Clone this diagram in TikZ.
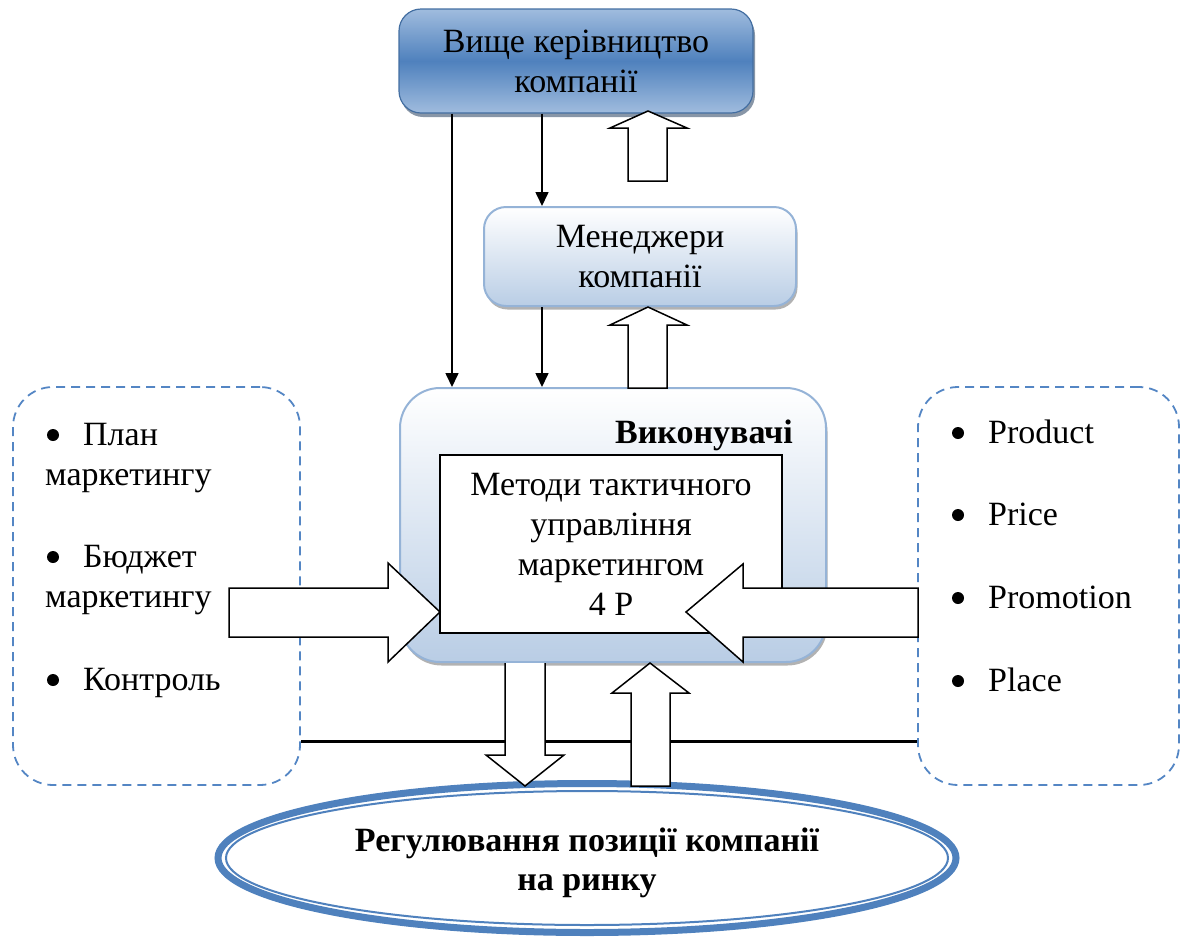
\documentclass[tikz,border=0pt]{standalone}
\usepackage{fontspec}
\setmainfont{Liberation Serif}
\usetikzlibrary{shadows,arrows.meta,calc,shapes.geometric}
\definecolor{accent}{RGB}{79,129,189}
\definecolor{lightacc}{RGB}{149,179,215}
\definecolor{paleacc}{RGB}{185,205,229}
\definecolor{topacc}{RGB}{160,188,222}
\definecolor{dashacc}{RGB}{84,134,196}
\tikzset{
  body/.style={font=\fontsize{34}{40}\selectfont},
  topbox/.style={draw=accent!85!black, line width=1.2pt, rounded corners=22pt,
    top color=topacc, bottom color=topacc, middle color=accent,
    drop shadow={shadow xshift=2pt, shadow yshift=-4pt, fill=accent!50!black, opacity=0.55},
    align=center, body},
  softbox/.style={draw=lightacc, line width=2pt, top color=white, bottom color=paleacc,
    drop shadow={shadow xshift=1.5pt, shadow yshift=-3.5pt, fill=black, opacity=0.3},
    align=center, body},
  dashbox/.style={draw=dashacc, line width=1.8pt, dash pattern=on 9pt off 6pt, rounded corners=40pt},
  thinarr/.style={draw=black, line width=1.6pt, -{Triangle[length=14pt,width=13pt]}},
  hollow/.style={draw=black, fill=white, line width=1.5pt, line join=miter},
  itemtext/.style={body, anchor=base west, inner sep=0pt},
  bulletmark/.style={circle, fill=black, minimum size=12pt, inner sep=0pt},
}
\begin{document}
\begin{tikzpicture}[x=1pt, y=-1pt]
\useasboundingbox (0,0) rectangle (1181,938);

% dashed side boxes
\node[dashbox, minimum width=287pt, minimum height=398pt] (lbox) at (156.5,586) {};
\node[dashbox, minimum width=261pt, minimum height=398pt] (rbox) at (1048.5,586) {};

% horizontal line
\draw[line width=3pt] (lbox.east |- 0,741) -- (rbox.west |- 0,741);

% boxes
\node[topbox, minimum width=354pt, minimum height=104pt, inner sep=0pt] (top) at (576,61) {Вище керівництво\\компанії};
\node[softbox, rounded corners=22pt, minimum width=312pt, minimum height=99pt, inner sep=0pt] (mgr) at (640,256.5) {Менеджери\\компанії};
\node[softbox, rounded corners=40pt, minimum width=426pt, minimum height=274pt] (exec) at (613,525) {};
\node[font=\fontsize{34}{40}\selectfont\bfseries, anchor=base east, inner sep=0pt] (execlabel) at (793,443) {Виконувачі};
\node[draw=black, line width=1.5pt, fill=white, minimum width=342pt, minimum height=178pt,
  align=center, font=\fontsize{34}{40}\selectfont, inner sep=0pt] (methods) at (611,544)
  {Методи тактичного\\управління\\маркетингом\\4 P};

% ellipse
\node[ellipse, draw=accent, line width=7pt, fill=white, minimum width=738pt, minimum height=149pt, inner sep=0pt] (goal) at (587,858) {};
\draw[accent, line width=2pt] (goal.center) ellipse [x radius=361pt, y radius=67pt];
\node[align=center, font=\fontsize{34}{39}\selectfont\bfseries, inner sep=0pt] (goaltext) at ([yshift=-5pt]goal.center) {Регулювання позиції компанії\\на ринку};

% thin arrows
\draw[thinarr] (top.south -| 452,0) -- (exec.north -| 452,0);
\draw[thinarr] (top.south -| 542,0) -- (mgr.north -| 542,0);
\draw[thinarr] (mgr.south -| 542,0) -- (exec.north -| 542,0);

% hollow arrows
\draw[hollow] (628,181) -- (628,128) -- (610,128) -- (648,111) -- (687,128) -- (667,128) -- (667,181) -- cycle;
\draw[hollow] (628,388) -- (628,325) -- (610,325) -- (648,307) -- (687,325) -- (667,325) -- (667,388) -- cycle;
\draw[hollow] (229,588) -- (388,588) -- (388,563) -- (440,612) -- (388,662) -- (388,637) -- (229,637) -- cycle;
\draw[hollow] (918,588) -- (743,588) -- (743,564) -- (686,612) -- (743,662) -- (743,637) -- (918,637) -- cycle;
\draw[hollow] (505,663) -- (505,755) -- (486,755) -- (525,786) -- (564,755) -- (545,755) -- (545,663);
\draw[hollow] (631,786) -- (631,693) -- (612,693) -- (650,663) -- (689,693) -- (670,693) -- (670,786) -- cycle;

% left list
\node[bulletmark] (lb1) at (53,435) {};
\node[itemtext] (lt1) at (83,445) {План};
\node[itemtext] (lt1b) at (45,485) {маркетингу};
\node[bulletmark] (lb2) at (53,557) {};
\node[itemtext] (lt2) at (83,567) {Бюджет};
\node[itemtext] (lt2b) at (45,607) {маркетингу};
\node[bulletmark] (lb3) at (53,680) {};
\node[itemtext] (lt3) at (83,690) {Контроль};

% right list
\node[bulletmark] (rb1) at (958,433) {};
\node[itemtext] (rt1) at (988,443) {Product};
\node[bulletmark] (rb2) at (958,515) {};
\node[itemtext] (rt2) at (988,525) {Price};
\node[bulletmark] (rb3) at (958,598) {};
\node[itemtext] (rt3) at (988,608) {Promotion};
\node[bulletmark] (rb4) at (958,681) {};
\node[itemtext] (rt4) at (988,691) {Place};
\end{tikzpicture}
\end{document}
